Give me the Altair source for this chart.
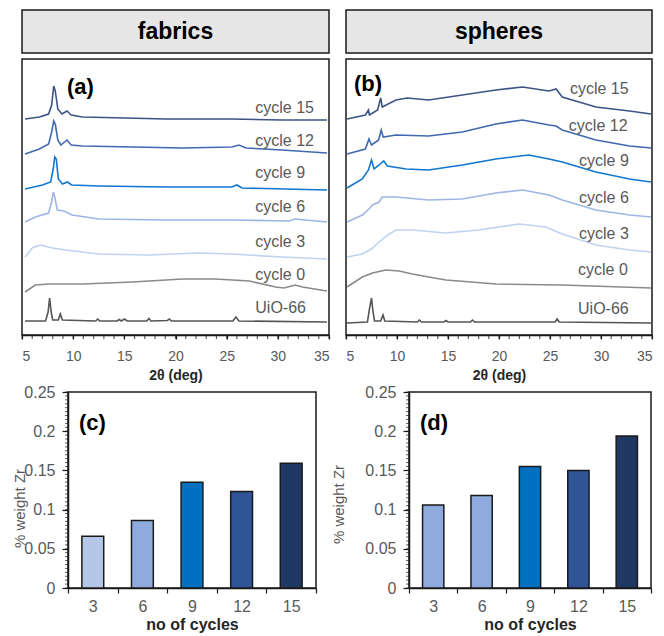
import pandas as pd
import altair as alt

FONT = "Liberation Sans"
GRAY_TXT = "#595959"
DARK = "#1a1a1a"

SERIES = ["UiO-66", "cycle 0", "cycle 3", "cycle 6", "cycle 9", "cycle 12", "cycle 15"]
LINE_COLORS = ["#555555", "#8a8a8a", "#bfd2f0", "#9db6e4", "#0f77d0", "#4169b0", "#3d5385"]

# XRD patterns (2theta, stacked intensity a.u.)
fab_uio = [(5.3, 14), (7.3, 14), (7.55, 23), (7.7, 37), (7.85, 23), (8.0, 15), (8.55, 15), (8.75, 21),
           (8.95, 15), (12.2, 14), (12.4, 16), (12.6, 14), (14.3, 14), (14.5, 15.5), (14.7, 14), (15.0, 16),
           (15.3, 14), (17.2, 14), (17.4, 16.5), (17.6, 14), (19.2, 14.5), (19.4, 16), (19.6, 14),
           (25.6, 14), (25.9, 18), (26.2, 14), (34.8, 13)]
fab_c0 = [(5.3, 43), (6.3, 50), (7.6, 51), (10.9, 51), (15.8, 53), (20.7, 56), (23.9, 56), (27.2, 54),
          (29.8, 48), (30.6, 47), (31.7, 50), (32.4, 48), (34.8, 44)]
fab_c3 = [(5.3, 78), (6.0, 87), (6.8, 90), (8.0, 87), (9.3, 85), (12.5, 81), (17.4, 80), (22.3, 82),
          (25.5, 81), (30.4, 78), (34.8, 76)]
fab_c6 = [(5.3, 113), (6.3, 118), (7.6, 122), (7.9, 133), (8.05, 143), (8.2, 138), (8.45, 125), (9.1, 124),
          (9.9, 120), (12.5, 116), (19, 115), (25.5, 115), (31.1, 114), (31.7, 116), (34.8, 113)]
fab_c9 = [(5.3, 146), (7.0, 150), (7.8, 153), (8.05, 166), (8.2, 178), (8.35, 176), (8.55, 156), (8.95, 151),
          (9.45, 153), (9.85, 150), (12.5, 149), (19, 148), (25.5, 148), (26.0, 150), (26.5, 147), (34.8, 145)]
fab_c12 = [(5.3, 181), (6.7, 186), (7.6, 191), (7.9, 203), (8.1, 214), (8.25, 211), (8.5, 195), (8.8, 190),
           (9.4, 195), (9.8, 190), (10.9, 189), (15.8, 188), (20.7, 187), (25.5, 188), (26.2, 190),
           (26.9, 187), (30.4, 185), (34.8, 182)]
fab_c15 = [(5.3, 216), (6.7, 218), (7.6, 221), (7.9, 230), (8.1, 249), (8.25, 244), (8.5, 226), (8.9, 221),
           (9.4, 224), (9.8, 220), (10.9, 218), (15.1, 217), (19, 216), (25.5, 216), (30.4, 215), (34.8, 215)]

sph_uio = [(5.1, 12), (7.1, 13), (7.3, 26), (7.5, 37), (7.65, 23), (7.8, 14), (8.4, 14), (8.63, 20),
           (8.8, 14), (12.0, 13), (12.2, 15), (12.4, 13), (14.6, 13), (14.8, 14.5), (15.0, 13), (17.2, 13),
           (17.4, 15), (17.6, 13), (25.5, 13), (25.7, 16), (25.9, 13), (34.9, 12)]
sph_c0 = [(5.1, 48), (6.6, 58), (7.6, 62), (8.9, 65), (10.2, 64), (11.5, 61), (13.1, 58), (14.8, 55),
          (19.7, 51), (26.2, 50), (34.9, 47)]
sph_c3 = [(5.1, 78), (6.6, 81), (7.5, 86), (8.25, 93), (9.1, 100), (9.9, 105), (11.5, 105), (14.8, 102),
          (18.0, 105), (22.0, 111), (24.6, 108), (26.2, 101), (29.5, 90), (32.8, 85), (34.9, 83)]
sph_c6 = [(5.1, 113), (6.6, 120), (7.25, 126), (7.6, 130), (8.25, 133), (8.55, 138), (9.9, 138), (13.1, 135),
          (16.4, 136), (19.7, 142), (22.3, 145), (24.9, 140), (26.2, 135), (29.5, 125), (32.8, 120), (34.9, 118)]
sph_c9 = [(5.1, 147), (6.6, 156), (7.2, 165), (7.5, 175), (7.75, 166), (8.25, 170), (8.7, 174), (9.05, 169),
          (10.9, 166), (13.1, 165), (16.4, 170), (19.7, 176), (22.9, 180), (24.9, 176), (26.2, 173),
          (29.5, 163), (32.8, 156), (34.9, 153)]
sph_c12 = [(5.1, 181), (6.9, 186), (7.25, 196), (7.5, 190), (8.2, 195), (8.45, 205), (8.65, 198), (9.9, 200),
           (13.1, 199), (16.4, 203), (19.7, 211), (22.3, 215), (24.9, 210), (25.6, 209), (26.2, 205),
           (29.5, 195), (32.8, 189), (34.9, 187)]
sph_c15 = [(5.1, 216), (6.9, 220), (7.2, 225), (7.3, 220), (8.1, 225), (8.4, 237), (8.55, 228), (9.9, 235),
           (11.0, 237), (13.1, 235), (16.4, 240), (19.7, 245), (22.3, 248), (24.9, 244), (25.6, 246),
           (26.2, 238), (29.5, 228), (32.8, 224), (34.9, 221)]

# where the series names sit (2theta, intensity), same order as SERIES
fab_label_deg = [27.8, 27.8, 27.8, 27.8, 27.8, 27.8, 27.8]
fab_label_int = [27, 60, 93, 128, 162, 194, 227]
sph_label_deg = [27.75, 27.75, 27.85, 27.85, 27.85, 26.85, 26.95]
sph_label_int = [26, 65, 101, 137, 174, 209, 246]

# Zr content vs number of cycles
cycles = ["3", "6", "9", "12", "15"]
zr_fabrics = [0.066, 0.086, 0.135, 0.123, 0.159]
zr_spheres = [0.106, 0.118, 0.155, 0.150, 0.194]
BAR_COLORS_C = ["#b4c7e7", "#8faadc", "#0070c0", "#2f5597", "#203864"]
BAR_COLORS_D = ["#8faadc", "#8faadc", "#0070c0", "#2f5597", "#203864"]

# axis tick positions
DEG_MAJOR = [5, 10, 15, 20, 25, 30, 35]
DEG_MINOR = list(range(5, 36))
ZR_MAJOR = [0, 0.05, 0.1, 0.15, 0.2, 0.25]
ZR_MINOR = [i / 200 for i in range(51)]


def one_row(**kw):
    return pd.DataFrame({k: [v] for k, v in kw.items()})


def xrd_panel(curves, label_deg, label_int, header, letter, width, letter_x, letter_y):
    rows = []
    for name, col, pts in zip(SERIES, LINE_COLORS, curves):
        for i, (d, v) in enumerate(pts):
            rows.append({"series": name, "col": col, "i": i, "deg": d, "v": v})
    df = pd.DataFrame(rows)
    labels = pd.DataFrame({"series": SERIES, "deg": label_deg, "v": label_int})

    xenc = alt.X("deg:Q", scale=alt.Scale(domain=[5, 35], nice=False, zero=False), axis=alt.Axis(
        values=DEG_MAJOR, labelOverlap=False, labelFontSize=14, tickSize=4, labelPadding=10,
        title="2θ (deg)", titleY=33, titleBaseline="top", titleFontWeight="bold", titleFontSize=14))
    yenc = alt.Y("v:Q", scale=alt.Scale(domain=[0, 276], nice=False, zero=False), axis=None)

    lines = alt.Chart(df).mark_line(strokeWidth=1.6).encode(
        x=xenc, y=yenc,
        color=alt.Color("col:N", scale=None),
        detail="series:N",
        order="i:Q",
    )
    names = alt.Chart(labels).mark_text(align="left", baseline="middle", fontSize=16, color=GRAY_TXT).encode(
        x=xenc, y=yenc, text="series:N",
    )
    minor = alt.Chart(pd.DataFrame({"deg": DEG_MINOR})).mark_tick(
        orient="vertical", size=4, thickness=1.2, color=DARK
    ).encode(x=xenc, y=alt.value(278))
    head_box = alt.Chart(one_row(t=header)).mark_rect(fill="#e7e6e6", stroke=DARK, strokeWidth=1.5).encode(
        x=alt.value(0), x2=alt.value(width), y=alt.value(-49), y2=alt.value(-6)
    )
    head_txt = alt.Chart(one_row(t=header)).mark_text(fontSize=23, fontWeight="bold", color="black",
                                                      baseline="middle").encode(
        x=alt.value(width / 2), y=alt.value(-27), text="t:N"
    )
    tag = alt.Chart(one_row(t=letter)).mark_text(fontSize=22, fontWeight="bold", color="black",
                                                 align="left", baseline="middle").encode(
        x=alt.value(letter_x), y=alt.value(letter_y), text="t:N"
    )
    return alt.layer(head_box, head_txt, lines, names, minor, tag).properties(width=width, height=276)


def bar_panel(values, colors, letter, width, title_x, title_y):
    df = pd.DataFrame({"cycle": cycles, "zr": values, "col": colors})
    yenc = alt.Y("zr:Q", scale=alt.Scale(domain=[0, 0.25], nice=False), axis=alt.Axis(
        values=ZR_MAJOR, format=".2~f", tickSize=6, labelPadding=7, labelFontSize=16,
        title="% weight Zr", titleX=title_x, titleY=title_y, titleAngle=270, titleAlign="center",
        titleBaseline="middle", titleFontWeight="normal", titleColor=GRAY_TXT, titleFontSize=15))
    xenc = alt.X("cycle:N", sort=cycles, scale=alt.Scale(paddingInner=0, paddingOuter=0),
                 axis=alt.Axis(tickBand="extent", tickSize=5, labelAngle=0, labelPadding=5,
                               labelFontSize=16, title="no of cycles", titlePadding=2,
                               titleFontSize=16, titleFontWeight="bold"))
    bars = alt.Chart(df).mark_bar(width=alt.RelativeBandSize(0.44), stroke=DARK, strokeWidth=1.5).encode(
        x=xenc, y=yenc,
        color=alt.Color("col:N", scale=None),
    )
    minor = alt.Chart(pd.DataFrame({"zr": ZR_MINOR})).mark_tick(
        orient="horizontal", size=3, thickness=1, color=DARK
    ).encode(y=yenc, x=alt.value(-1.5))
    tag = alt.Chart(one_row(t=letter)).mark_text(fontSize=22, fontWeight="bold", color="black",
                                                 align="left", baseline="middle").encode(
        x=alt.value(11), y=alt.value(31), text="t:N"
    )
    return alt.layer(bars, minor, tag).properties(width=width, height=196)


def spacer():
    return alt.Chart(one_row(t=0)).mark_rect(opacity=0).encode(
        x=alt.value(0), x2=alt.value(1), y=alt.value(0), y2=alt.value(1)
    ).properties(width=1, height=1, view=alt.ViewBackground(stroke="transparent"))


fab = xrd_panel([fab_uio, fab_c0, fab_c3, fab_c6, fab_c9, fab_c12, fab_c15],
                fab_label_deg, fab_label_int, "fabrics", "(a)", 307, 45, 28)
sph = xrd_panel([sph_uio, sph_c0, sph_c3, sph_c6, sph_c9, sph_c12, sph_c15],
                sph_label_deg, sph_label_int, "spheres", "(b)", 306, 8, 25)

bar_c = bar_panel(zr_fabrics, BAR_COLORS_C, "(c)", 248, -49, 116)
bar_d = bar_panel(zr_spheres, BAR_COLORS_D, "(d)", 242, -71, 112)

# spacer in front of each row so both rows are placed by their full bounds
top = alt.hconcat(spacer(), alt.hconcat(fab, sph, spacing=12), spacing=9)
bottom = alt.hconcat(spacer(), alt.hconcat(bar_c, bar_d, spacing=12), spacing=0)

chart = (
    alt.vconcat(top, bottom, spacing=0)
    .properties(padding=0)
    .configure_view(stroke=DARK, strokeWidth=1.5)
    .configure_axis(labelFont=FONT, titleFont=FONT, labelFontSize=14, labelColor=GRAY_TXT,
                    titleFontSize=13, titleColor="#262626", domainColor=DARK, tickColor=DARK,
                    domainWidth=1.5, tickWidth=1.2, grid=False)
    .configure_text(font=FONT)
)

chart.save("out.html", embed_options={"renderer": "svg", "actions": False})
